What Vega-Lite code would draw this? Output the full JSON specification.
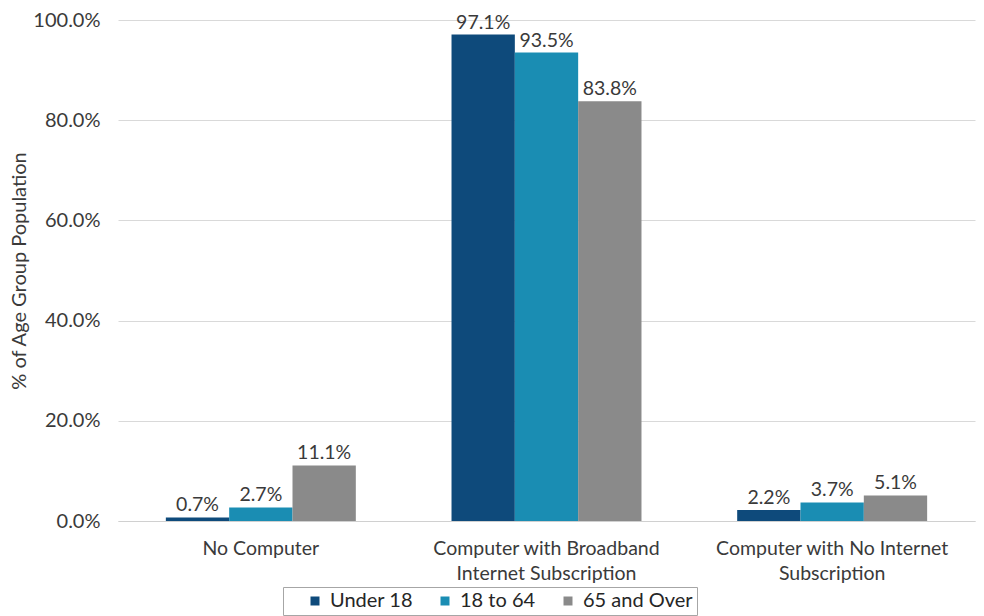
{
  "$schema": "https://vega.github.io/schema/vega-lite/v6.json",
  "autosize": "none",
  "width": 857,
  "height": 501,
  "padding": {"left": 118, "top": 20, "right": 9, "bottom": 95},
  "background": "white",
  "config": {
    "font": "Lato",
    "view": {"stroke": null},
    "axis": {"labelFont": "Lato", "titleFont": "Lato"}
  },
  "data": {
    "values": [
      {"category": "No Computer", "age": "Under 18", "share": 0.007},
      {"category": "No Computer", "age": "18 to 64", "share": 0.027},
      {"category": "No Computer", "age": "65 and Over", "share": 0.111},
      {"category": "Computer with Broadband Internet Subscription", "age": "Under 18", "share": 0.971},
      {"category": "Computer with Broadband Internet Subscription", "age": "18 to 64", "share": 0.935},
      {"category": "Computer with Broadband Internet Subscription", "age": "65 and Over", "share": 0.838},
      {"category": "Computer with No Internet Subscription", "age": "Under 18", "share": 0.022},
      {"category": "Computer with No Internet Subscription", "age": "18 to 64", "share": 0.037},
      {"category": "Computer with No Internet Subscription", "age": "65 and Over", "share": 0.051}
    ]
  },
  "encoding": {
    "x": {
      "field": "category",
      "type": "nominal",
      "sort": null,
      "scale": {"paddingInner": 0.335, "paddingOuter": 0.1675},
      "axis": {
        "title": null,
        "labelAngle": 0,
        "labelFontSize": 19.5,
        "labelColor": "#3a3a3a",
        "labelPadding": 18,
        "labelLineHeight": 25,
        "labelLimit": 0,
        "ticks": false,
        "domain": true,
        "domainColor": "#d0d0d0",
        "labelExpr": "datum.value == 'Computer with Broadband Internet Subscription' ? ['Computer with Broadband', 'Internet Subscription'] : datum.value == 'Computer with No Internet Subscription' ? ['Computer with No Internet', 'Subscription'] : datum.value"
      }
    },
    "xOffset": {
      "field": "age",
      "type": "nominal",
      "sort": ["Under 18", "18 to 64", "65 and Over"]
    },
    "y": {
      "field": "share",
      "type": "quantitative",
      "scale": {"domain": [0, 1]},
      "axis": {
        "title": "% of Age Group Population",
        "titleFontSize": 20,
        "titleFontWeight": "normal",
        "titleColor": "#3a3a3a",
        "titlePadding": 3,
        "format": ".1%",
        "values": [0, 0.2, 0.4, 0.6, 0.8, 1.0],
        "labelFontSize": 20,
        "labelColor": "#3a3a3a",
        "labelPadding": 18,
        "ticks": false,
        "domain": false,
        "grid": true,
        "gridColor": "#d9d9d9"
      }
    }
  },
  "layer": [
    {
      "mark": {"type": "bar"},
      "encoding": {
        "color": {
          "field": "age",
          "type": "nominal",
          "sort": ["Under 18", "18 to 64", "65 and Over"],
          "scale": {
            "domain": ["Under 18", "18 to 64", "65 and Over"],
            "range": ["#0e4a7b", "#1a8db3", "#8a8a8a"]
          },
          "legend": {
            "title": null,
            "orient": "none",
            "direction": "horizontal",
            "legendX": 165,
            "legendY": 567,
            "strokeColor": "#a6a6a6",
            "padding": 4,
            "symbolOffset": 18,
            "symbolType": "square",
            "symbolSize": 81,
            "symbolStrokeWidth": 0,
            "labelFontSize": 20,
            "labelColor": "#262626",
            "labelFont": "Lato",
            "columnPadding": 4,
            "labelOffset": 5
          }
        }
      }
    },
    {
      "mark": {"type": "text", "baseline": "bottom", "dy": -2, "fontSize": 19.5, "color": "#3a3a3a", "font": "Lato"},
      "encoding": {
        "text": {"field": "share", "type": "quantitative", "format": ".1%"}
      }
    }
  ]
}
